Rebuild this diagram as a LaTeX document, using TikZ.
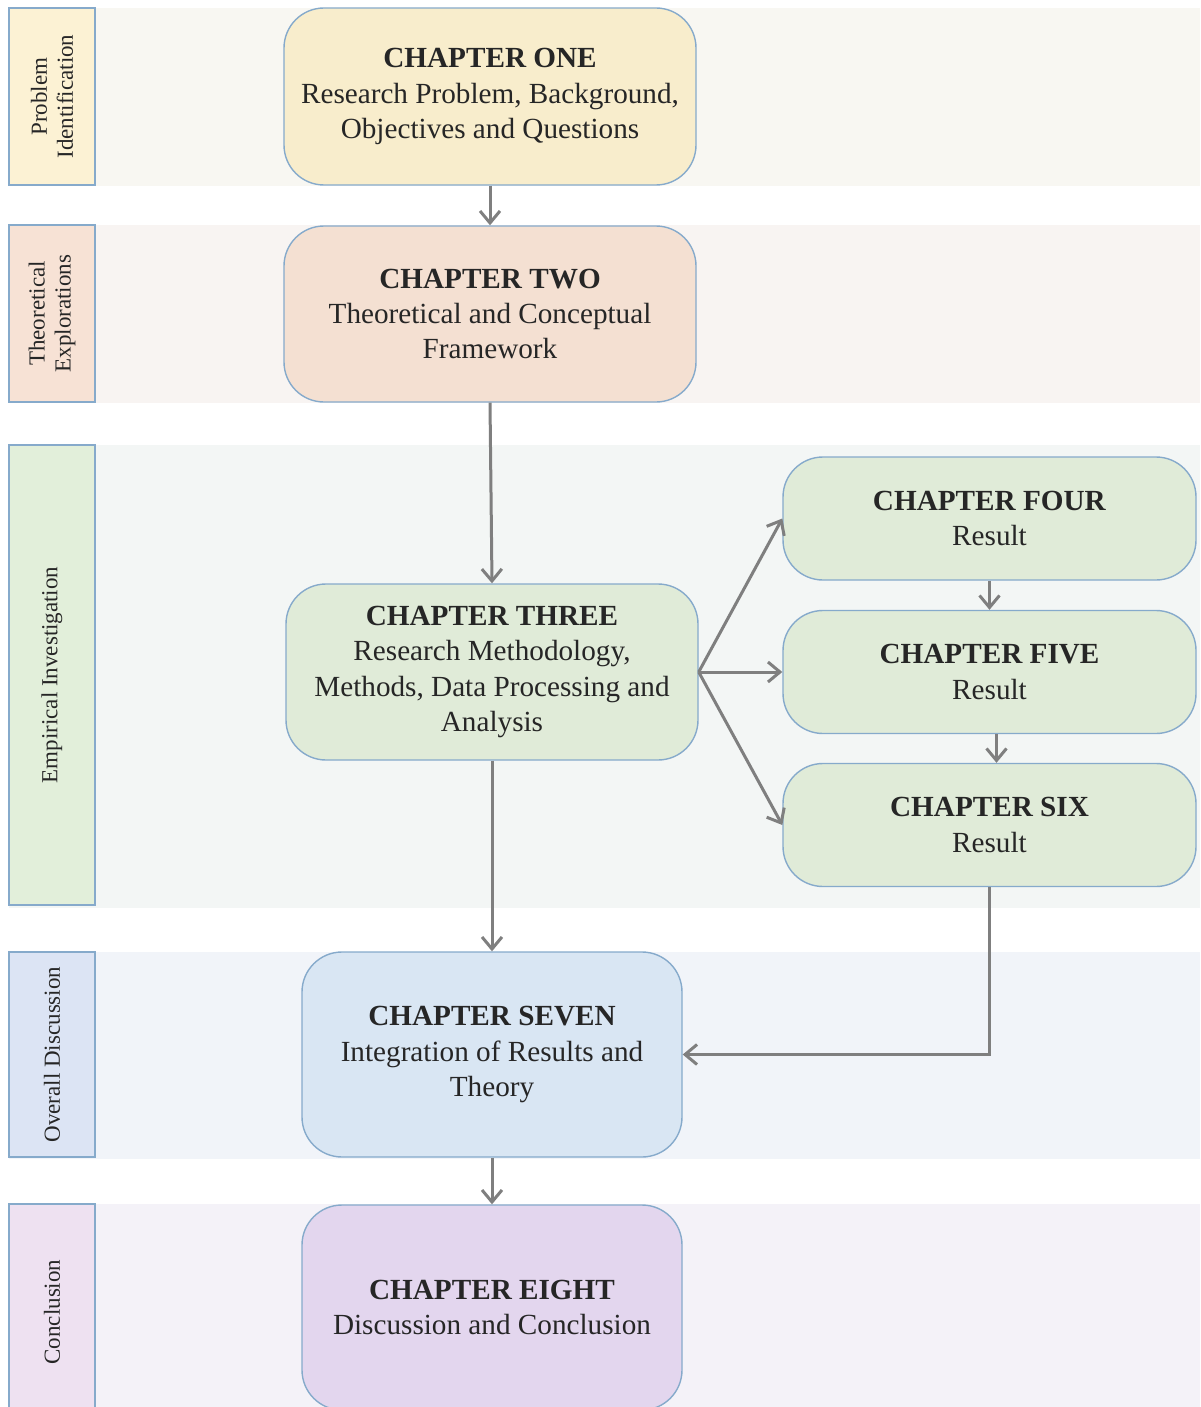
\documentclass[tikz,border=0pt]{standalone}
\usepackage{fontspec}
\setmainfont{Liberation Serif}
\usetikzlibrary{arrows.meta}
\definecolor{bandA}{HTML}{F8F7F2}
\definecolor{bandB}{HTML}{F8F4F2}
\definecolor{bandC}{HTML}{F3F6F5}
\definecolor{bandD}{HTML}{F1F4F9}
\definecolor{bandE}{HTML}{F4F2F8}
\definecolor{labA}{HTML}{FCF2D4}
\definecolor{labB}{HTML}{F7E2D5}
\definecolor{labC}{HTML}{E2EFDA}
\definecolor{labD}{HTML}{DCE4F4}
\definecolor{labE}{HTML}{EEE1F1}
\definecolor{chA}{HTML}{F8EDCC}
\definecolor{chB}{HTML}{F4E0D2}
\definecolor{chC}{HTML}{E0EBD8}
\definecolor{chD}{HTML}{D9E6F3}
\definecolor{chE}{HTML}{E3D6EE}
\definecolor{edgeblue}{HTML}{86AACB}
\definecolor{arrowgray}{HTML}{7F7F7F}
\definecolor{textdark}{HTML}{262626}
\begin{document}
\begin{tikzpicture}[x=0.5pt,y=-0.5pt,
  chap/.style={draw=edgeblue, line width=0.7pt, rounded corners=20pt, align=center,
    inner sep=0pt, text=textdark, font=\fontsize{14.6}{17.6}\selectfont},
  lbl/.style={draw=edgeblue, line width=0.6pt, rotate=90, align=center, inner sep=0pt,
    text=textdark, font=\fontsize{11.5}{13}\selectfont, minimum height=43pt},
  arr/.style={draw=arrowgray, line width=1.5pt, -{Straight Barb[length=6pt,width=10pt]}}]
\useasboundingbox (0,0) rectangle (1200,1407);
\clip (0,0) rectangle (1200,1407);
% bands
\fill[bandA] (9,8) rectangle (1200,186);
\fill[bandB] (9,225) rectangle (1200,403);
\fill[bandC] (9,445) rectangle (1200,908);
\fill[bandD] (9,952) rectangle (1200,1159);
\fill[bandE] (9,1204) rectangle (1200,1420);
% lane labels
\node[lbl, fill=labA, minimum width=88.5pt] (l1) at (52,96.5) {Problem\\Identification};
\node[lbl, fill=labB, minimum width=88.5pt] (l2) at (52,313.5) {Theoretical\\Explorations};
\node[lbl, fill=labC, minimum width=230pt] (l3) at (52,675) {Empirical Investigation};
\node[lbl, fill=labD, minimum width=102.5pt] (l4) at (52,1054.5) {Overall Discussion};
\node[lbl, fill=labE, minimum width=108pt] (l5) at (52,1312) {Conclusion};
% chapters
\node[chap, fill=chA, minimum width=206pt, minimum height=88.5pt] (c1) at (490,96.5)
  {\textbf{CHAPTER ONE}\\Research Problem, Background,\\Objectives and Questions};
\node[chap, fill=chB, minimum width=206pt, minimum height=88pt] (c2) at (490,314)
  {\textbf{CHAPTER TWO}\\Theoretical and Conceptual\\Framework};
\node[chap, fill=chC, minimum width=206pt, minimum height=88pt] (c3) at (492,672)
  {\textbf{CHAPTER THREE}\\Research Methodology,\\Methods, Data Processing and\\Analysis};
\node[chap, fill=chC, minimum width=206.5pt, minimum height=61.5pt] (c4) at (989.5,518.5)
  {\textbf{CHAPTER FOUR}\\Result};
\node[chap, fill=chC, minimum width=206.5pt, minimum height=61.5pt] (c5) at (989.5,672)
  {\textbf{CHAPTER FIVE}\\Result};
\node[chap, fill=chC, minimum width=206.5pt, minimum height=61.5pt] (c6) at (989.5,825)
  {\textbf{CHAPTER SIX}\\Result};
\node[chap, fill=chD, minimum width=190pt, minimum height=102.5pt] (c7) at (492,1054.5)
  {\textbf{CHAPTER SEVEN}\\Integration of Results and\\Theory};
\node[chap, fill=chE, minimum width=190pt, minimum height=102.5pt] (c8) at (492,1307.5)
  {\textbf{CHAPTER EIGHT}\\Discussion and Conclusion};
% connectors
\draw[arr] (c1.south) -- (c2.north);
\draw[arr] (c2.south) -- (c3.north);
\draw[arr] (c3.east) -- (c4.west);
\draw[arr] (c3.east) -- (c5.west);
\draw[arr] (c3.east) -- (c6.west);
\draw[arr] (c4.south) -- (c5.north);
\draw[arr] ([xshift=3.5pt]c5.south) -- ([xshift=3.5pt]c6.north);
\draw[arr] (c3.south) -- (c7.north);
\draw[arr] (c6.south) |- (c7.east);
\draw[arr] (c7.south) -- (c8.north);
\end{tikzpicture}
\end{document}
